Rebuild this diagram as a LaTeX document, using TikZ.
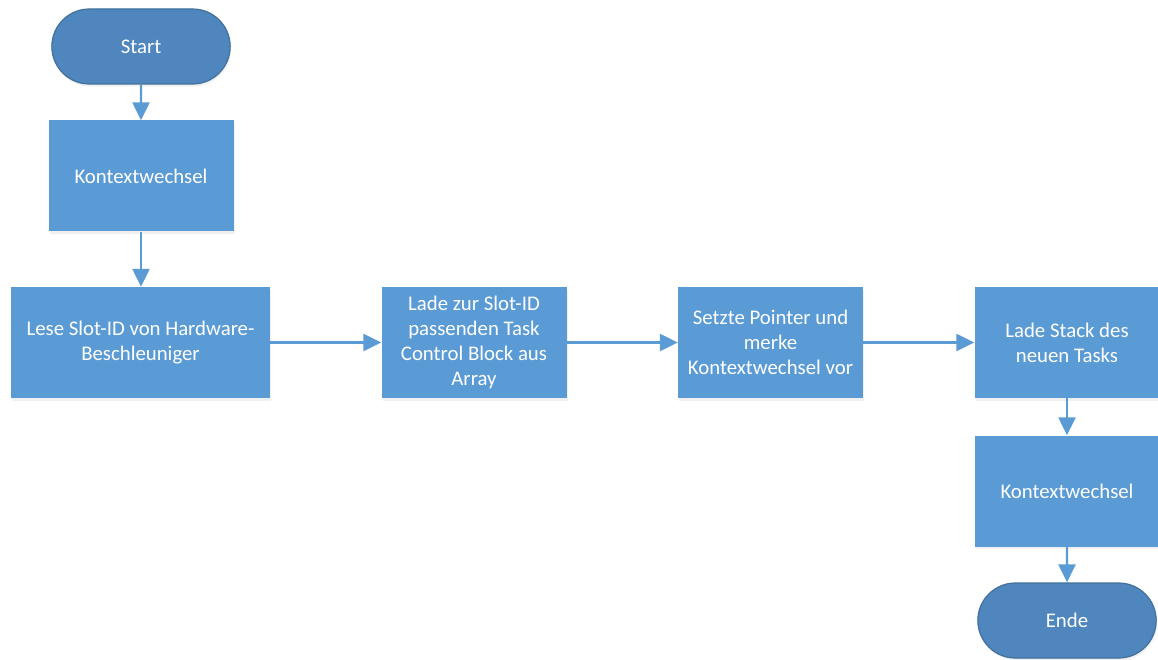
\documentclass[tikz,border=0pt]{standalone}
\usepackage{fontspec}
\setmainfont{Carlito}
\usetikzlibrary{arrows.meta,shapes.misc,shadows}
\definecolor{boxblue}{HTML}{5B9BD5}
\definecolor{termblue}{HTML}{4E86BD}
\definecolor{termedge}{HTML}{41719C}
\begin{document}
\begin{tikzpicture}[x=1pt,y=-1pt,
  font=\fontsize{20.8}{25.2}\selectfont,
  softshadow/.style={drop shadow={opacity=0.12,shadow xshift=1pt,shadow yshift=-2.5pt}},
  procbox/.style={rectangle,fill=boxblue,draw=none,text=white,align=center,
    minimum width=185pt,minimum height=111pt,inner sep=4pt,softshadow},
  termbox/.style={rounded rectangle,fill=termblue,draw=termedge,line width=1.2pt,
    text=white,minimum width=185pt,minimum height=75pt,softshadow},
  flow/.style={draw=boxblue,line width=2.4pt,-{Triangle[length=18pt,width=17pt]}}]
  \useasboundingbox (0,0) rectangle (1158,660);

  % left column
  \node[termbox] (start) at (141,46.5) {Start};
  \node[procbox] (k1) at (141,176) {Kontextwechsel};
  \node[procbox,minimum width=259pt] (lese) at (140.5,342.5) {Lese Slot-ID von Hardware-\\Beschleuniger};

  % middle row
  \node[procbox] (tcb) at (474,342.5) {Lade zur Slot-ID\\passenden Task\\Control Block aus\\Array};
  \node[procbox] (ptr) at (770.5,342.5) {Setzte Pointer und\\merke\\Kontextwechsel vor};

  % right column
  \node[procbox] (stack) at (1067,342.5) {Lade Stack des\\neuen Tasks};
  \node[procbox] (k2) at (1067,491) {Kontextwechsel};
  \node[termbox] (ende) at (1067,620.5) {Ende};

  % connectors
  \draw[flow] (start) -- (k1);
  \draw[flow] (k1.south) -- (k1.south |- lese.north);
  \draw[flow] (lese) -- (tcb);
  \draw[flow] (tcb) -- (ptr);
  \draw[flow] (ptr) -- (stack);
  \draw[flow] (stack) -- (k2);
  \draw[flow] (k2) -- (ende);
\end{tikzpicture}
\end{document}
